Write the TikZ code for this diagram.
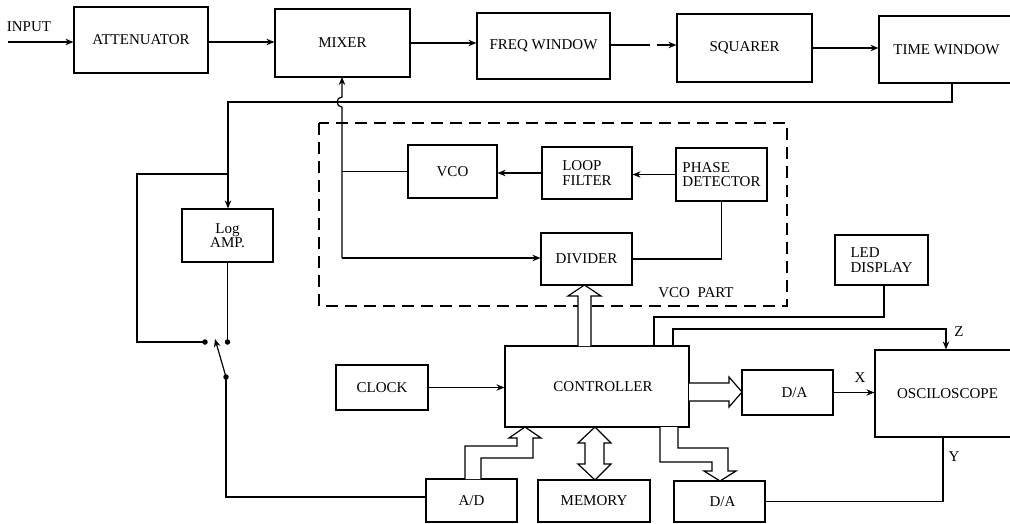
\documentclass[tikz,border=0pt]{standalone}
\usepackage{fontspec}
\setmainfont{Liberation Serif}
\usetikzlibrary{arrows.meta,calc}
\tikzset{
  box/.style={draw, line width=1.2pt, inner sep=1pt, font=\fontsize{15}{14.5}\selectfont},
  lbl/.style={inner sep=0pt, font=\fontsize{15}{14.5}\selectfont},
  conn/.style={line width=1.2pt},
  arr/.style={line width=1.2pt, -{Stealth[length=8pt,width=6.5pt]}},
  hollow/.style={line width=1.2pt, fill=white, line join=miter},
  dot/.style={circle, fill=black, inner sep=0pt, minimum size=5.5pt},
}
\begin{document}
\begin{tikzpicture}[x=1pt,y=-1pt]
\useasboundingbox (0,0) rectangle (1010,523);
\clip (0,0) rectangle (1010,523);
% boxes
\node[box, minimum width=134pt, minimum height=66pt] (att) at (141,40) {ATTENUATOR};
\node[box, minimum width=135pt, minimum height=68pt] (mix) at (342.5,43) {MIXER};
\node[box, minimum width=133pt, minimum height=66pt] (freq) at (543.5,46) {FREQ WINDOW};
\node[box, minimum width=135pt, minimum height=68pt] (sq) at (744.5,48) {SQUARER};
\node[box, minimum width=141pt, minimum height=67pt] (tw) at (949.5,49.5) {TIME WINDOW\hspace*{6pt}};
\node[box, minimum width=91pt, minimum height=53pt, align=center] (logamp) at (227.5,235.5) {Log\\AMP.};
\node[box, minimum width=89pt, minimum height=53pt] (vco) at (452.5,171.5) {VCO};
\node[box, minimum width=90pt, minimum height=52pt, align=left] (loop) at (587,173) {LOOP\\FILTER};
\node[box, minimum width=91pt, minimum height=53pt, align=left] (phase) at (721.5,174.5) {PHASE\\DETECTOR};
\node[box, minimum width=91pt, minimum height=52pt] (div) at (586.5,259) {DIVIDER};
\node[box, minimum width=93pt, minimum height=50pt, align=left] (led) at (881.5,260) {LED\\DISPLAY};
\node[box, minimum width=92pt, minimum height=45pt] (clock) at (382,387.5) {CLOCK};
\node[box, minimum width=184pt, minimum height=81pt] (ctrl) at (597,386.5) {\hspace*{12pt}CONTROLLER};
\node[box, minimum width=91pt, minimum height=45pt] (da1) at (787.5,392.5) {\hspace*{14pt}D/A};
\node[box, minimum width=145pt, minimum height=87pt] (osc) at (947.5,393.5) {OSCILOSCOPE};
\node[box, minimum width=91pt, minimum height=43pt] (ad) at (471.5,500.5) {A/D};
\node[box, minimum width=112pt, minimum height=42pt] (mem) at (594,501) {MEMORY};
\node[box, minimum width=91pt, minimum height=41pt] (da2) at (719.5,501.5) {\hspace*{6pt}D/A};
% VCO part
\draw[conn, dash pattern=on 12pt off 7pt] (319,123) rectangle (787,306);
\node[lbl] (vcopart) at (696,293) {VCO\ \ PART};
% labels
\node[lbl] (inputlbl) at (29,27) {INPUT};
\node[lbl] (xlbl) at (860,378) {X};
\node[lbl] (zlbl) at (959,332) {Z};
\node[lbl] (ylbl) at (954,457) {Y};
% top chain
\coordinate (in) at (8,42);
\draw[arr] (in) -- (in -| att.west);
\draw[arr] ($(att.east)+(0,2)$) -- ($(att.east -| mix.west)+(0,2)$);
\draw[arr] (mix.east) -- (mix.east -| freq.west);
\draw[arr, dash pattern=on 39pt off 7pt on 100pt] ($(freq.east)+(0,-1)$) -- ($(freq.east -| sq.west)+(0,-1)$);
\draw[arr] (sq.east) -- (sq.east -| tw.west);
% feedback from time window to log amp
\coordinate (fb) at (228,102);
\draw[arr] ([xshift=2.5pt]tw.south) |- (fb) -- (fb |- logamp.north);
% branch to left switch contact
\coordinate (br) at (228,174);
\coordinate (sL) at (205,342);
\coordinate (sR) at (227.5,342);
\coordinate (sP) at (226,377);
\coordinate (armtip) at (215,339);
\draw[conn] (br) -- (137,174) |- (sL);
\draw[conn] (logamp.south) -- (sR);
\draw[arr] (sP) -- (armtip);
\node[dot] (dL) at (sL) {};
\node[dot] (dR) at (sR) {};
\node[dot] (dP) at (sP) {};
\coordinate (adin) at ($(ad.west)+(0,-3.5)$);
\draw[conn] (sP) |- (adin);
% VCO loop
\coordinate (jd) at (342,258);
\coordinate (jv) at (342,171.5);
\draw[arr] (jd) -- (342,107) arc[start angle=90, end angle=270, radius=5] -- (342,77);
\draw[conn] (vco.west) -- (jv);
\draw[arr] (jd) -- (jd -| div.west);
\draw[arr] (phase.west) -- (phase.west -| loop.east);
\draw[arr] (loop.west) -- (loop.west -| vco.east);
\draw[conn] (phase.south) |- (div.east);
% LED
\coordinate (ledc) at (654,317);
\draw[conn] ([xshift=2.5pt]led.south) |- (ledc) -- (ledc |- ctrl.north);
% Z
\coordinate (zc) at (946,329);
\draw[arr] (ctrl.north -| 673,0) |- (zc) -- (zc |- osc.north);
% X
\draw[arr] (da1.east) -- (da1.east -| osc.west);
% Y
\draw[conn] (osc.south -| 943,0) |- (da2.east);
% clock
\draw[arr] (clock.east) -- (clock.east -| ctrl.west);
% hollow arrows
\draw[hollow] (578,346) -- (578,296) -- (568,296) -- (584.5,285) -- (601,296) -- (591,296) -- (591,346);
\draw[hollow] (689,383) -- (729,383) -- (729,377) -- (742,392) -- (729,407) -- (729,401) -- (689,401);
\draw[hollow] (595,427) -- (611,443) -- (604,443) -- (604,464) -- (611,464) -- (595,480) -- (578,464) -- (585,464) -- (585,443) -- (578,443) -- cycle;
\draw[hollow] (465,479) -- (465,446) -- (517,446) -- (517,438) -- (509,438) -- (525,427) -- (541,438) -- (533,438) -- (533,458) -- (481,458) -- (481,479);
\draw[hollow] (660,427) -- (660,462) -- (712,462) -- (712,471) -- (704,471) -- (720,481) -- (736,471) -- (728,471) -- (728,448) -- (678,448) -- (678,427);
\end{tikzpicture}
\end{document}
